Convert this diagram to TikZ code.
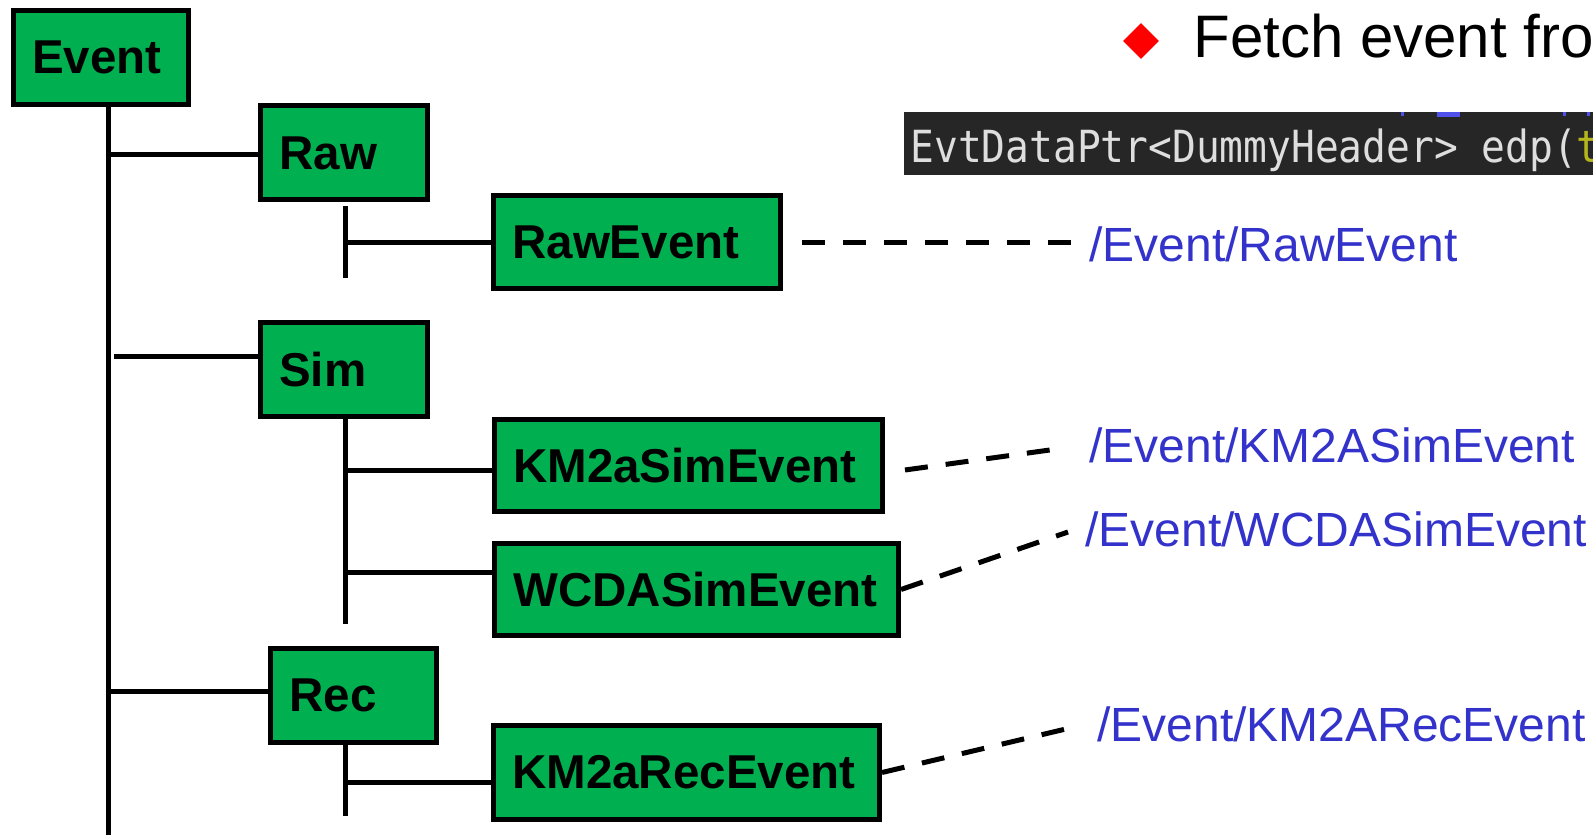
\documentclass[tikz,border=0pt]{standalone}
\usepackage{fontspec}
\setmainfont{Liberation Sans}
\setmonofont{DejaVu Sans Mono}
\usepackage{graphicx}
\usetikzlibrary{positioning,shapes.geometric}

\definecolor{boxgreen}{RGB}{0,176,80}
\definecolor{pathblue}{RGB}{51,51,204}
\definecolor{codebg}{RGB}{38,38,38}
\definecolor{codefg}{RGB}{222,222,222}
\definecolor{codeolive}{RGB}{181,181,30}
\definecolor{codeblue}{RGB}{80,80,235}

\begin{document}
\begin{tikzpicture}[
        x=0.5pt, y=-0.5pt,
        box/.style={draw, line width=2.5pt, fill=boxgreen, align=left, inner xsep=9.4pt, inner ysep=0pt, minimum height=47pt, font=\fontsize{23.75}{28}\selectfont\bfseries},
        edge/.style={draw, line width=2.5pt},
        link/.style={draw, line width=2.5pt, dash pattern=on 11.5pt off 9pt},
        tag/.style={text=pathblue, anchor=base west, inner sep=0pt, font=\fontsize{24}{28}\selectfont},
    ]
    \useasboundingbox (0,0) rectangle (1593,834);

    % Root
    \node[box, text width=68.7pt] (Event) at (101,57.5) {Event};
    \coordinate (trunk) at (108.5,103.5);
    \coordinate (trunkend) at (108.5,840);
    \draw[edge] (trunk) -- (trunkend);

    % === Raw branch ===
    \node[box, text width=64.7pt] (Raw) at (344,153) {Raw};
    \coordinate (jRaw) at (108.5,155);
    \draw[edge] (jRaw) -- (jRaw -| Raw.west);

    \node[box, text width=124.7pt, minimum height=46.5pt] (RawEvent) at (637,242) {RawEvent};
    \coordinate (rawtop) at (345,206);
    \coordinate (rawbot) at (345,278);
    \coordinate (jRawEvent) at (345,242);
    \draw[edge] (rawtop) -- (rawbot);
    \draw[edge] (jRawEvent) -- (jRawEvent -| RawEvent.west);

    % === Sim branch ===
    \node[box, text width=64.7pt] (Sim) at (344,369.5) {Sim};
    \coordinate (jSim) at (114,356);
    \draw[edge] (jSim) -- (jSim -| Sim.west);

    \node[box, text width=175.2pt, minimum height=46pt] (KMSim) at (688.5,465.5) {KM2aSimEvent};
    \node[box, text width=183.2pt, minimum height=46pt] (WCDASim) at (696.5,589.5) {WCDASimEvent};
    \coordinate (simbot) at (345,624);
    \coordinate (jKMSim) at (345,470);
    \coordinate (jWCDASim) at (345,572);
    \draw[edge] (Sim.south -| simbot) -- (simbot);
    \draw[edge] (jKMSim) -- (jKMSim -| KMSim.west);
    \draw[edge] (jWCDASim) -- (jWCDASim -| WCDASim.west);

    % === Rec branch ===
    \node[box, text width=64.2pt] (Rec) at (353.5,695) {Rec};
    \coordinate (jRec) at (108.5,691);
    \draw[edge] (jRec) -- (jRec -| Rec.west);

    \node[box, text width=174.2pt] (KMRec) at (686.5,772.5) {KM2aRecEvent};
    \coordinate (rectop) at (345,745);
    \coordinate (recbot) at (345,816);
    \coordinate (jKMRec) at (345,782);
    \draw[edge] (rectop) -- (recbot);
    \draw[edge] (jKMRec) -- (jKMRec -| KMRec.west);

    % === Store paths ===
    \node[tag] (pRawEvent) at (1089,261) {/Event/RawEvent};
    \node[tag] (pKMSim) at (1089,462) {/Event/KM2ASimEvent};
    \node[tag] (pWCDASim) at (1085,546) {/Event/WCDASimEvent};
    \node[tag] (pKMRec) at (1097,741) {/Event/KM2ARecEvent};

    \coordinate (sRawEvent) at (802,242);
    \coordinate (eRawEvent) at (1072,242);
    \coordinate (sKMSim) at (905,470);
    \coordinate (eKMSim) at (1057,449);
    \coordinate (eWCDASim) at (1068,532);
    \coordinate (eKMRec) at (1070,728);
    \draw[link] (sRawEvent) -- (eRawEvent);
    \draw[link] (sKMSim) -- (eKMSim);
    \draw[link] (WCDASim.east) -- (eWCDASim);
    \draw[link] (KMRec.east) -- (eKMRec);

    % Bullet and code line
    \node[diamond, fill=red, minimum size=18pt, inner sep=0pt] (bullet) at (1141,41) {};
    \node[anchor=base west, inner sep=0pt, font=\fontsize{30}{34}\selectfont] (fetch) at (1193,58) {Fetch event fro};

    \fill[codebg] (904,112) rectangle (1600,175);
    \fill[codeblue] (1437,112) rectangle (1460,117);
    \fill[codeblue] (1401,112) rectangle (1404,116);
    \fill[codeblue] (1563,112) rectangle (1566,116);
    \fill[codeblue] (1587,112) rectangle (1590,116);
    \node[anchor=base west, inner sep=0pt, text=codefg, font=\ttfamily\fontsize{19.77}{24}\selectfont] (code) at (910,163)
        {\scalebox{1}[1.12]{EvtDataPtr<DummyHeader> edp(\textcolor{codeolive}{t}}};

\end{tikzpicture}
\end{document}
